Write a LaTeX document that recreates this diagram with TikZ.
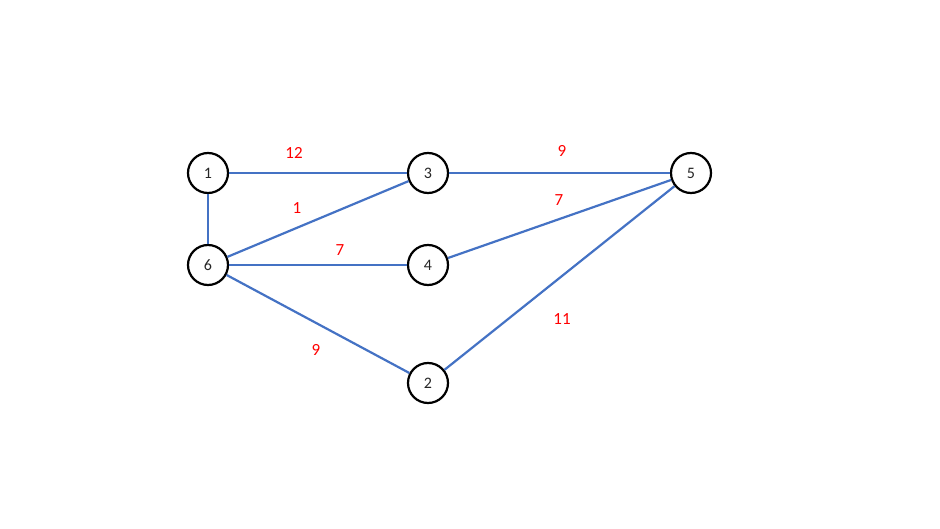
\documentclass[tikz,border=0pt]{standalone}
\usepackage{fontspec}
\setmainfont{Carlito}
\definecolor{edgeblue}{HTML}{4472C4}
\begin{document}
\begin{tikzpicture}[x=1pt,y=-1pt,
  vtx/.style={circle,draw=black,line width=2.2pt,minimum size=40pt,inner sep=0pt,font=\fontsize{16}{18}\selectfont,text=black!85,fill=white},
  edge/.style={draw=edgeblue,line width=2.2pt},
  wlabel/.style={text=red,font=\fontsize{17}{20}\selectfont,inner sep=0pt}]
\useasboundingbox (0,0) rectangle (940,529);
\node[vtx] (n1) at (208,173) {1};
\node[vtx] (n3) at (428,173) {3};
\node[vtx] (n5) at (691,173) {5};
\node[vtx] (n6) at (208,265) {6};
\node[vtx] (n4) at (428,265) {4};
\node[vtx] (n2) at (428,383) {2};
\draw[edge] (n1) -- (n3);
\draw[edge] (n3) -- (n5);
\draw[edge] (n1) -- (n6);
\draw[edge] (n6) -- (n3);
\draw[edge] (n6) -- (n4);
\draw[edge] (n4) -- (n5);
\draw[edge] (n6) -- (n2);
\draw[edge] (n2) -- (n5);
\node[wlabel] (l13) at (294,153) {12};
\node[wlabel] (l35) at (562,151) {9};
\node[wlabel] (l63) at (297,208) {1};
\node[wlabel] (l64) at (340,250) {7};
\node[wlabel] (l45) at (559,200) {7};
\node[wlabel] (l25) at (562,319) {11};
\node[wlabel] (l62) at (316,350) {9};
\end{tikzpicture}
\end{document}
